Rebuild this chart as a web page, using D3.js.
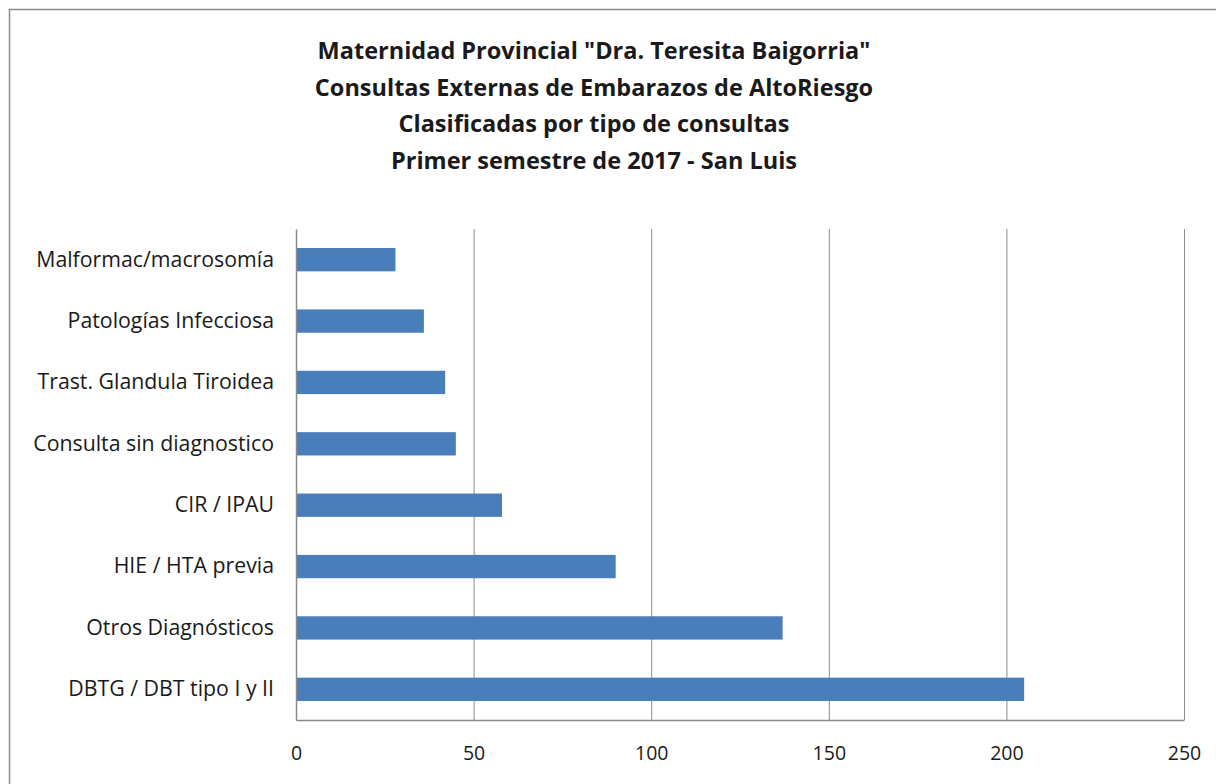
<!DOCTYPE html>
<html>
<head>
<meta charset="utf-8">
<script src="https://cdn.jsdelivr.net/npm/d3@7"></script>
<style>
  body { margin: 0; background: #fff; }
  svg text { font-family: "Open Sans", Lato, sans-serif; fill: #1a1a1a; }
</style>
</head>
<body>
<div id="chart"></div>
<script>
// chart data
const categories = [
    "Malformac/macrosomía",
    "Patologías Infecciosa",
    "Trast. Glandula Tiroidea",
    "Consulta sin diagnostico",
    "CIR / IPAU",
    "HIE / HTA previa",
    "Otros Diagnósticos",
    "DBTG / DBT tipo I y II"
];
const values = [28, 36, 42, 45, 58, 90, 137, 205];
const xTicks = [0, 50, 100, 150, 200, 250];
const titleLines = [
    "Maternidad Provincial \"Dra. Teresita Baigorria\"",
    "Consultas Externas de Embarazos de AltoRiesgo",
    "Clasificadas por tipo de consultas",
    "Primer semestre de 2017 - San Luis"
];

const W = 1216, H = 784;
const margin = { top: 229, right: 32, bottom: 64, left: 296 };
const width = W - margin.left - margin.right;
const height = H - margin.top - margin.bottom;

const svg = d3.select("#chart").append("svg")
    .attr("width", W)
    .attr("height", H);

// outer chart border
svg.append("rect")
    .attr("x", 9.5).attr("y", 9.5)
    .attr("width", W + 20).attr("height", H + 20)
    .attr("fill", "none")
    .attr("stroke", "#8c8c8c")
    .attr("stroke-width", 1.5);

// title
svg.append("g")
    .selectAll("text")
    .data(titleLines)
    .join("text")
    .attr("x", 594)
    .attr("y", (d, i) => 59 + i * 36.7)
    .attr("text-anchor", "middle")
    .style("font-size", "23.5px")
    .style("font-weight", "bold")
    .text(d => d);

const g = svg.append("g")
    .attr("transform", `translate(${margin.left},${margin.top})`);

const x = d3.scaleLinear()
    .domain([0, 250])
    .range([0, width]);

const y = d3.scaleBand()
    .domain(categories)
    .range([0, height])
    .paddingInner(0.62)
    .paddingOuter(0.31);

// vertical gridlines
g.append("g")
    .selectAll("line")
    .data(xTicks.slice(1))
    .join("line")
    .attr("x1", d => x(d) + 0.5)
    .attr("x2", d => x(d) + 0.5)
    .attr("y1", 0)
    .attr("y2", height)
    .attr("stroke", "#8a8a8a")
    .attr("stroke-width", 1);

// bars
g.append("g")
    .selectAll("rect")
    .data(values)
    .join("rect")
    .attr("x", x(0))
    .attr("y", (d, i) => y(categories[i]))
    .attr("width", d => x(d))
    .attr("height", y.bandwidth())
    .attr("fill", "#4a7ebb");

// x axis
const xAxis = g.append("g")
    .attr("transform", `translate(0,${height})`)
    .call(d3.axisBottom(x).tickValues(xTicks).tickSize(0).tickPadding(26));
xAxis.select(".domain").attr("stroke", "#8a8a8a").attr("stroke-width", 1.5);
xAxis.selectAll("text").style("font-size", "19.5px").attr("fill", "#1a1a1a");

// y axis
const yAxis = g.append("g")
    .call(d3.axisLeft(y).tickSize(0).tickPadding(22));
yAxis.select(".domain").attr("stroke", "#8a8a8a").attr("stroke-width", 1.5);
yAxis.selectAll("text")
    .style("font-size", "21.3px")
    .attr("fill", "#1a1a1a");
</script>
</body>
</html>
